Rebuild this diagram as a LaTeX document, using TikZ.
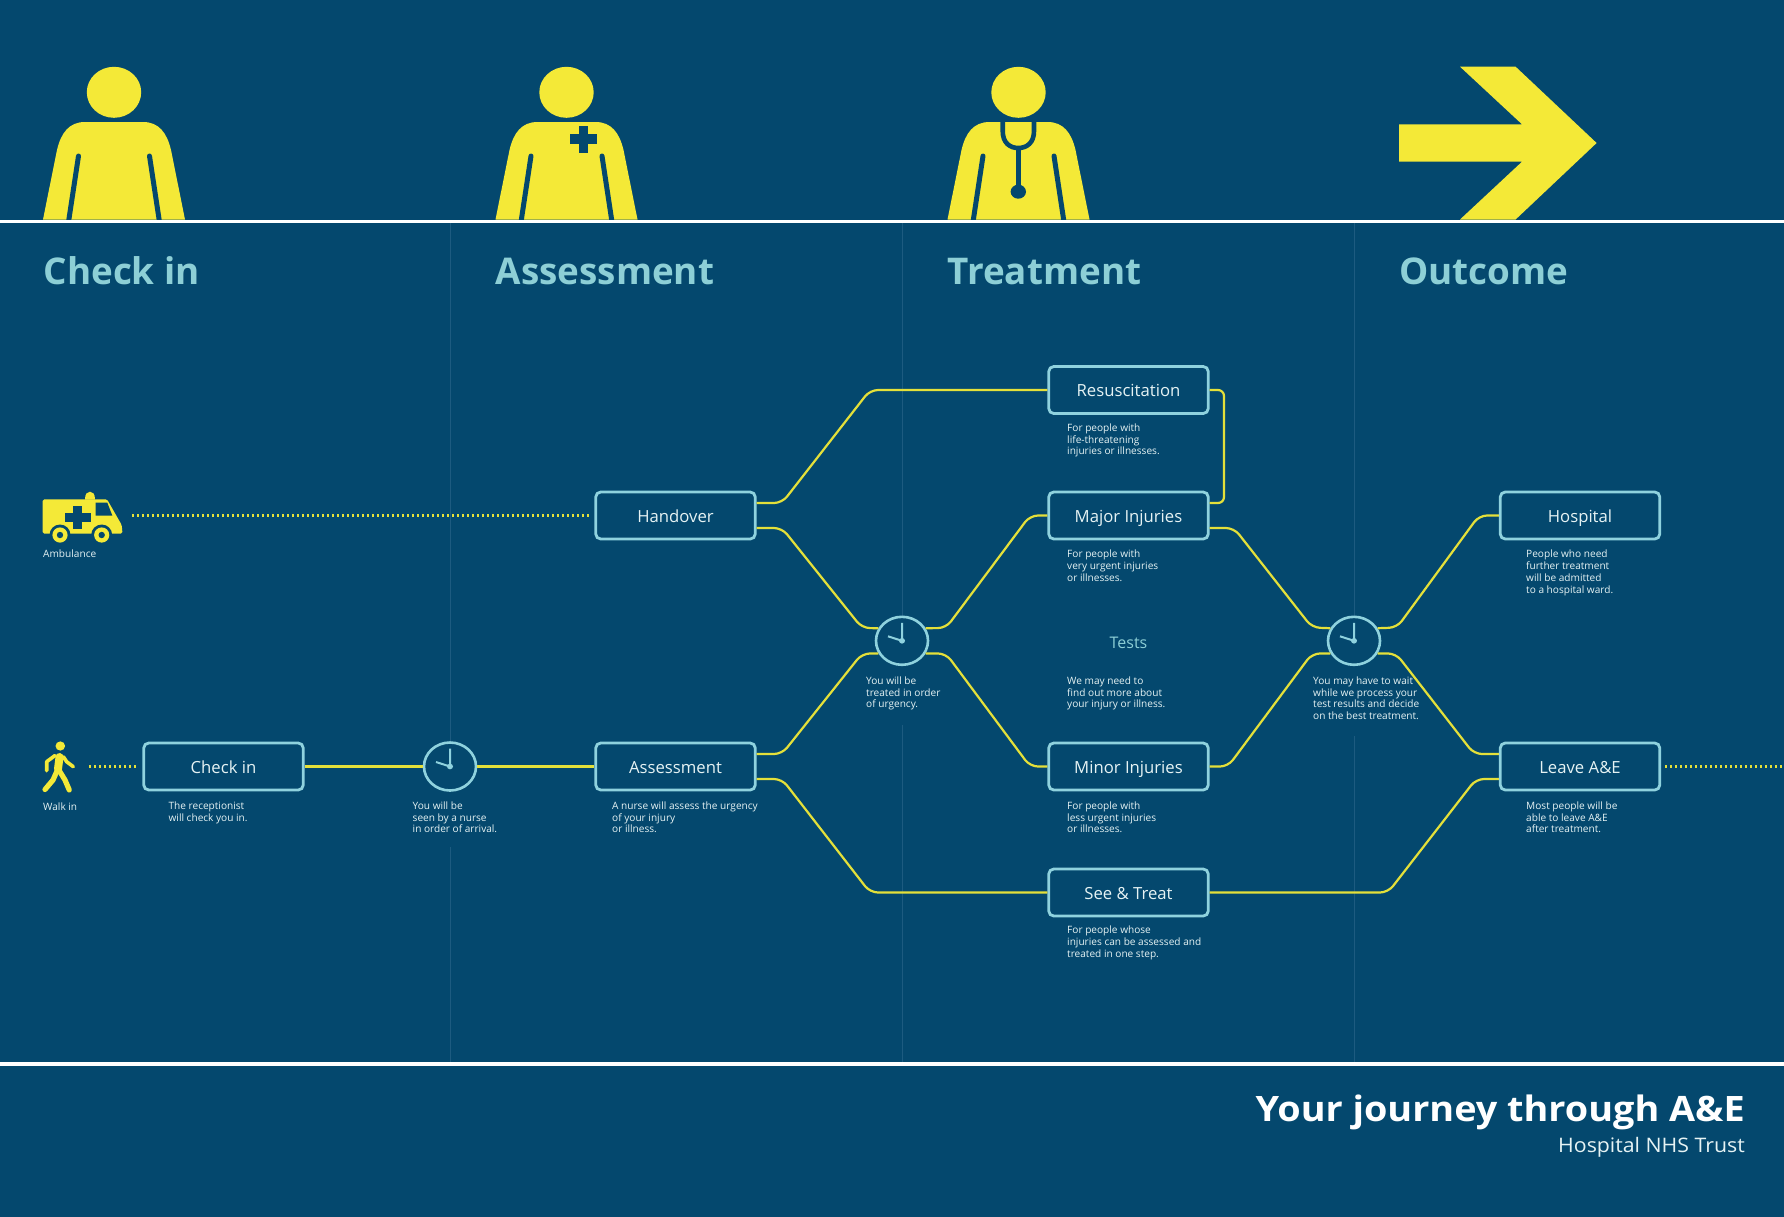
\documentclass[tikz,border=0pt]{standalone}
\usepackage{fontspec}
\setmainfont{Open Sans}
\newfontfamily\titlefont[FakeStretch=1.08]{Open Sans}
\newfontfamily\trustfont[FakeStretch=1.065]{Open Sans}
\usetikzlibrary{shapes.geometric}
\definecolor{bgblue}{HTML}{04486E}
\definecolor{signyellow}{HTML}{F4E937}
\definecolor{linkyellow}{HTML}{E4E03A}
\definecolor{paleblue}{HTML}{8FD2DE}
\definecolor{headblue}{HTML}{8DCFD6}
\definecolor{softwhite}{HTML}{E6F3F4}
\definecolor{divider}{HTML}{1D5B80}
\newcommand{\figperson}[1]{%
  \fill[signyellow,shift={(#1,0)}] (0,92.3) ellipse [x radius=27.2,y radius=25.5];
  \fill[signyellow,shift={(#1,0)}] (-71,219.5) -- (-57,150) .. controls (-53,133) and (-45,122) .. (-29,122) -- (29,122) .. controls (45,122) and (53,133) .. (57,150) -- (71,219.5) -- cycle;
  \draw[slotline,shift={(#1,0)}] (-35.5,156) -- (-45.5,222);
  \draw[slotline,shift={(#1,0)}] (35.5,156) -- (45.5,222);
}
\newcommand{\clockface}[1]{%
  \draw[clockhand] (#1.center) ++(0,-18) -- (#1.center) -- ++(-14,-4.5);
  \fill[paleblue] (#1.center) ellipse [x radius=3,y radius=2.8];
}
\tikzset{
  x=1pt,y=-1pt,
  slotline/.style={draw=bgblue,line width=5pt,line cap=round},
  stagebox/.style={rectangle,rounded corners=5pt,draw=paleblue,line width=2.8pt,fill=bgblue,
    minimum width=159.5pt,minimum height=47pt,inner sep=0pt,text=softwhite,
    text height=15.4pt,text depth=1.6pt,
    font=\fontsize{16.7}{20}\selectfont},
  clocknode/.style={ellipse,draw=paleblue,line width=2.6pt,fill=bgblue,minimum width=52pt,minimum height=48pt,inner sep=0pt},
  clockhand/.style={draw=paleblue,line width=2pt,line join=round},
  conn/.style={draw=linkyellow,line width=2.2pt,rounded corners=8pt},
  dots/.style={draw=linkyellow,line width=2.2pt,dash pattern=on 2.2pt off 2.8pt},
  heading/.style={anchor=base west,inner sep=0pt,text=headblue,font=\fontsize{36.8}{40}\selectfont\bfseries},
  note/.style={anchor=north west,inner sep=0pt,align=left,text=softwhite,font=\fontsize{10.1}{11.8}\selectfont},
  rule/.style={draw=white,line width=3.6pt},
  divline/.style={draw=divider,line width=1pt},
}
\begin{document}
\begin{tikzpicture}
\useasboundingbox (0,0) rectangle (1784,1216);
\fill[bgblue] (-3,-3) rectangle (1787,1219);
% dividers
\draw[divline] (450,223) -- (450,745);
\draw[divline] (450,847) -- (450,1062);
\draw[divline] (902,223) -- (902,620);
\draw[divline] (902,725) -- (902,1062);
\draw[divline] (1354,223) -- (1354,620);
\draw[divline] (1354,736) -- (1354,1062);
% figures
\figperson{114}
\figperson{566.5}
\figperson{1018.5}
\fill[bgblue] (578.6,126) rectangle (588.4,152.7);
\fill[bgblue] (570,134.3) rectangle (597,144);
\draw[bgblue,line width=4.6pt] (1002.7,121) -- (1002.7,131) .. controls (1002.7,143) and (1010,148) .. (1018.3,148) .. controls (1026.6,148) and (1034,143) .. (1034,131) -- (1034,121);
\draw[bgblue,line width=4.6pt] (1018.3,148) -- (1018.3,188);
\fill[bgblue] (1018.3,191.7) ellipse [x radius=7.7,y radius=7];
\fill[signyellow] (1399,124.3) -- (1522,124.3) -- (1460,66.7) -- (1515.6,66.7) -- (1596.6,143) -- (1515.6,219.5) -- (1460,219.5) -- (1522,161.7) -- (1399,161.7) -- cycle;
% rules
\draw[rule] (0,221.3) -- (1784,221.3);
\draw[rule] (0,1064) -- (1784,1064);
% headings
\node[heading] (hcheck) at (43.5,284) {Check in};
\node[heading] (hassess) at (495.5,284) {Assessment};
\node[heading] (htreat) at (947.5,284) {Treatment};
\node[heading] (houtcome) at (1399,284) {Outcome};
% ambulance
\fill[signyellow,rounded corners=1.5pt] (42.7,499.3) -- (107,499.3) -- (121.7,525) -- (122.5,533.5) -- (42.7,533.5) -- cycle;
\fill[signyellow] (85,499.5) .. controls (85,494) and (87,491.7) .. (90,491.7) .. controls (93,491.7) and (95,494) .. (95,499.5) -- cycle;
\fill[bgblue] (95.7,502.7) -- (107.3,502.7) -- (112.3,515.5) -- (95.7,515.5) -- cycle;
\fill[bgblue] (73.3,506) rectangle (82.3,529.3);
\fill[bgblue] (65,513.3) rectangle (90.7,521.7);
\foreach \wx in {60,101.7}{
  \fill[bgblue] (\wx,535) circle [radius=10.5];
  \fill[signyellow] (\wx,535) circle [radius=7.6];
  \fill[bgblue] (\wx,535) circle [radius=3.2];
}
% walker
\fill[signyellow] (60.3,746) ellipse [x radius=4.8,y radius=4.6];
\begin{scope}[draw=signyellow,line cap=round,line join=round]
\draw[line width=8pt] (59.5,757) -- (58,769);
\draw[line width=3.6pt] (55,755.5) -- (46.7,761.7) -- (46.7,770.7);
\draw[line width=3.6pt] (63.3,756.7) -- (66.7,761.7) -- (73.3,766.7);
\draw[line width=5.2pt] (57,771) -- (53,780) -- (45,789.5);
\draw[line width=5.2pt] (59.5,771) -- (65,780) -- (69.3,790);
\end{scope}
% labels
\node[note] (lamb) at (43,549.5) {\strut Ambulance};
\node[note] (lwalk) at (43,801.8) {\strut Walk in};
% boxes
\node[stagebox] (checkin) at (223.5,766.5) {Check in};
\node[stagebox] (handover) at (675.5,515.5) {Handover};
\node[stagebox] (assess) at (675.5,766.5) {Assessment};
\node[stagebox] (resus) at (1128.5,390) {Resuscitation};
\node[stagebox] (major) at (1128.5,515.5) {Major Injuries};
\node[stagebox] (minor) at (1128.5,766.5) {Minor Injuries};
\node[stagebox] (seetreat) at (1128.5,892.5) {See \& Treat};
\node[stagebox] (hospital) at (1580,515.5) {Hospital};
\node[stagebox] (leave) at (1580,766.5) {Leave A\&E};
\node[anchor=base,inner sep=0pt,text=headblue,font=\fontsize{16}{20}\selectfont] (tests) at (1128.5,648) {Tests};
% clocks
\node[clocknode] (clocka) at (450,766.5) {};
\node[clocknode] (clockb) at (902,640.8) {};
\node[clocknode] (clockc) at (1354,640.8) {};
\clockface{clocka}
\clockface{clockb}
\clockface{clockc}
% notes
\node[note] (n1) at (168.4,800.8) {\strut The receptionist\\will check you in.};
\node[note] (n2) at (412.5,800.8) {\strut You will be\\seen by a nurse\\in order of arrival.};
\node[note] (n3) at (612,800.8) {\strut A nurse will assess the urgency\\of your injury\\or illness.};
\node[note] (n4) at (1067,422.8) {\strut For people with\\life-threatening\\injuries or illnesses.};
\node[note] (n5) at (1067,549.5) {\strut For people with\\very urgent injuries\\or illnesses.};
\node[note] (n6) at (866,675.8) {\strut You will be\\treated in order\\of urgency.};
\node[note] (n7) at (1067,675.8) {\strut We may need to\\find out more about\\your injury or illness.};
\node[note] (n8) at (1067,800.8) {\strut For people with\\less urgent injuries\\or illnesses.};
\node[note] (n9) at (1067,925.5) {\strut For people whose\\injuries can be assessed and\\treated in one step.};
\node[note] (n10) at (1313,675.8) {\strut You may have to wait\\while we process your\\test results and decide\\on the best treatment.};
\node[note] (n11) at (1526,549.5) {\strut People who need\\further treatment\\will be admitted\\to a hospital ward.};
\node[note] (n12) at (1526,800.8) {\strut Most people will be\\able to leave A\&E\\after treatment.};
% title
\node[anchor=base east,inner sep=0pt,text=white,font=\titlefont\fontsize{35}{40}\selectfont\bfseries] (title) at (1745,1121.5) {Your journey through A\&E};
\node[anchor=base east,inner sep=0pt,text=softwhite,font=\trustfont\fontsize{20}{24}\selectfont] (trust) at (1745,1152) {Hospital NHS Trust};
% connectors
\coordinate (ambend) at (132,515.5);
\coordinate (walkend) at (89,766.5);
\coordinate (rightend) at (1784,766.5);
\draw[dots,shorten >=4pt] (ambend) -- (handover.west);
\draw[dots,shorten >=4pt] (walkend) -- (checkin.west);
\draw[dots,shorten <=4pt] (leave.east) -- (rightend);
\draw[conn] (checkin.east) -- (clocka.west);
\draw[conn] (clocka.east) -- (assess.west);
\draw[conn] ([yshift=12.5pt]handover.east) -- (782,503) -- (870,390) -- (resus.west);
\draw[conn] ([yshift=-12.5pt]handover.east) -- (782,528) -- (862,628) -- (clockb.152);
\draw[conn] ([yshift=12.5pt]assess.east) -- (782,754) -- (862,653.5) -- (clockb.208);
\draw[conn] ([yshift=-12.5pt]assess.east) -- (782,779) -- (870,892.5) -- (seetreat.west);
\draw[conn] (clockb.28) -- (946,628) -- (1030,515.5) -- (major.west);
\draw[conn] (clockb.-28) -- (946,653.5) -- (1030,766.5) -- (minor.west);
\draw[conn,rounded corners=6pt] (resus.east) -- (1224,390) -- (1224,503) -- ([yshift=12.5pt]major.east);
\draw[conn] ([yshift=-12.5pt]major.east) -- (1234,528) -- (1312,627.5) -- (clockc.152);
\draw[conn] (minor.east) -- (1228,766.5) -- (1312,653.5) -- (clockc.208);
\draw[conn] (clockc.28) -- (1397,627.5) -- (1479,515.5) -- (hospital.west);
\draw[conn] (clockc.-28) -- (1396,653.5) -- (1474,754) -- ([yshift=12.5pt]leave.west);
\draw[conn] (seetreat.east) -- (1388,892.5) -- (1476,779) -- ([yshift=-12.5pt]leave.west);
\end{tikzpicture}
\end{document}
